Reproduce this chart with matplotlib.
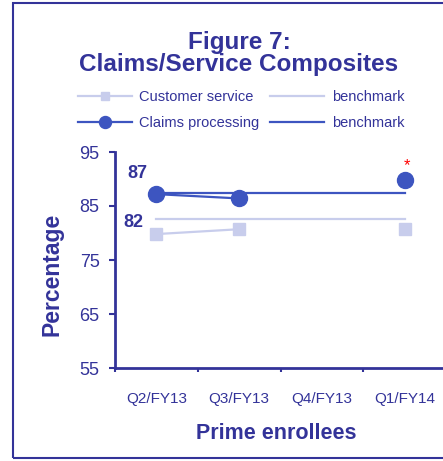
import numpy as np
import matplotlib
matplotlib.use("Agg")
import matplotlib.pyplot as plt
from matplotlib.patches import Rectangle

plt.rcParams['font.family'] = ['Liberation Sans', 'DejaVu Sans']

categories = ["Q2/FY13", "Q3/FY13", "Q4/FY13", "Q1/FY14"]
customer_service = [79.8, 80.7, np.nan, 80.7]
claims_processing = [87.2, 86.4, np.nan, 89.9]
cs_benchmark = [82.6, 82.6, 82.6, 82.6]
claims_benchmark = [87.4, 87.4, 87.4, 87.4]
y_ticks = [55, 65, 75, 85, 95]

NAVY = "#333399"
BLUE = "#3D55C0"
LAV = "#C8CDEC"

fig = plt.figure(figsize=(4.43, 4.61), dpi=100)
ax = fig.add_axes([115/443, 1-368/461, 331/443, 216/461])
x = np.arange(len(categories))

l_cs, = ax.plot(x, customer_service, color=LAV, lw=1.6, marker='s', ms=8, mec=LAV, mfc=LAV, zorder=3)
l_csb, = ax.plot(x, cs_benchmark, color=LAV, lw=1.6, zorder=2)
l_cl, = ax.plot(x, claims_processing, color=BLUE, lw=1.6, marker='o', ms=11.5, mec=BLUE, mfc=BLUE, zorder=4)
l_clb, = ax.plot(x, claims_benchmark, color=BLUE, lw=1.6, zorder=2)

ax.text(-0.23, claims_benchmark[0] + 3.7, f"{int(claims_benchmark[0])}", color=NAVY, fontsize=13,
        fontweight='bold', ha='center', va='center')
ax.text(-0.28, cs_benchmark[0] - 0.6, f"{int(cs_benchmark[0])}", color=NAVY, fontsize=13,
        fontweight='bold', ha='center', va='center')
ax.text(3.03, claims_processing[3] + 2.6, "*", color='red', fontsize=12, ha='center', va='center')

ax.set_xlim(-0.5, 3.5)
ax.set_ylim(55, 95)
ax.set_yticks(y_ticks)
ax.set_xticks(np.arange(-0.5, 3.6, 1.0))
ax.set_xticklabels([])
ax.set_xticks(x, minor=True)
ax.set_xticklabels(categories, minor=True)
ax.tick_params(axis='x', which='minor', length=0, pad=17, labelsize=11, labelcolor=NAVY)
ax.tick_params(axis='x', which='major', direction='out', length=3, color=NAVY, width=1.5)
ax.tick_params(axis='y', direction='out', length=4, color=NAVY, width=1.5, labelsize=13,
               labelcolor=NAVY, pad=7)
for s in ['top', 'right']:
    ax.spines[s].set_visible(False)
for s in ['left', 'bottom']:
    ax.spines[s].set_color(NAVY)
    ax.spines[s].set_linewidth(2)

fig.text(276/443, 1-433/461, "Prime enrollees", color=NAVY, fontsize=15.5, fontweight='bold',
         ha='center', va='center')
fig.text(52/443, 1-274/461, "Percentage", color=NAVY, fontsize=16.5, fontweight='bold',
         ha='center', va='center', rotation=90)
fig.text(239/443, 1-42/461, "Figure 7:", color=NAVY, fontsize=17.5, fontweight='bold',
         ha='center', va='center')
fig.text(239/443, 1-64/461, "Claims/Service Composites", color=NAVY, fontsize=17.5, fontweight='bold',
         ha='center', va='center')

leg = fig.legend([l_cs, l_cl, l_csb, l_clb],
                 ["Customer service", "Claims processing", "benchmark", "benchmark"],
                 ncol=2, loc='center', bbox_to_anchor=(241/443, 1-110/461), frameon=False,
                 fontsize=10.5, handlelength=3.7, handletextpad=0.5, columnspacing=0.75,
                 labelspacing=0.85, markerscale=0.75)
for t in leg.get_texts():
    t.set_color(NAVY)

fig.add_artist(Rectangle((13/443, 1-458/461), 1.2, 455/461, transform=fig.transFigure,
                         fill=False, edgecolor=NAVY, lw=1.5, clip_on=False))

fig.savefig("out.png", dpi=100)
